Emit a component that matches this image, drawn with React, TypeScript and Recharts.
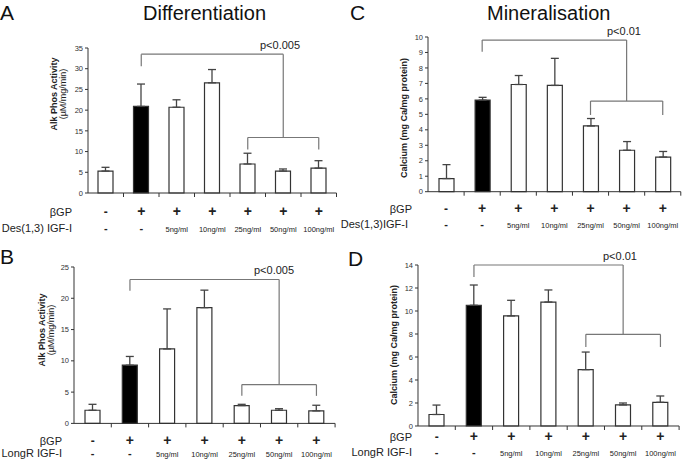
import React from 'react';
import { BarChart, Bar, XAxis, YAxis, Cell, ErrorBar, ReferenceLine } from 'recharts';

const FONT = '"Liberation Sans", Arial, sans-serif';

// treatment groups (same for all four panels)
const categories = ['ctrl', 'bgp', 'igf5', 'igf10', 'igf25', 'igf50', 'igf100'];
const gpLabels = ['-', '+', '+', '+', '+', '+', '+'];
const doseLabels = ['-', '-', '5ng/ml', '10ng/ml', '25ng/ml', '50ng/ml', '100ng/ml'];

// A: ALP activity, Des(1,3) IGF-I
const alpDesValues = [5.3, 20.9, 20.7, 26.6, 7.0, 5.3, 6.0];
const alpDesErrors = [0.9, 5.4, 1.8, 3.2, 2.6, 0.5, 1.8];
const alpDesTicks = [0, 5, 10, 15, 20, 25, 30, 35];
const alpDesBracket = [33.5, 30.6, 13.4, 10.5];

// B: ALP activity, LongR IGF-I
const alpLongValues = [2.1, 9.3, 11.9, 18.5, 2.85, 2.1, 2.0];
const alpLongErrors = [0.95, 1.4, 6.4, 2.8, 0.2, 0.25, 0.9];
const alpLongTicks = [0, 5, 10, 15, 20, 25];
const alpLongBracket = [23.0, 21.2, 6.2, 4.4];

// C: calcium, Des(1,3) IGF-I
const caDesValues = [0.85, 5.92, 6.93, 6.87, 4.25, 2.68, 2.24];
const caDesErrors = [0.9, 0.18, 0.58, 1.75, 0.48, 0.56, 0.36];
const caDesTicks = [0, 1, 2, 3, 4, 5, 6, 7, 8, 9, 10];
const caDesBracket = [9.8, 9.05, 5.86, 4.96];

// D: calcium, LongR IGF-I
const caLongValues = [1.0, 10.5, 9.57, 10.78, 4.9, 1.83, 2.06];
const caLongErrors = [0.82, 1.76, 1.36, 1.05, 1.53, 0.17, 0.55];
const caLongTicks = [0, 2, 4, 6, 8, 10, 12, 14];
const caLongBracket = [14.0, 12.96, 7.97, 6.87];

const panels = [
  { id: 'A', plot: { l: 88, r: 336.5, t: 48.3, b: 193.3 }, values: alpDesValues, errors: alpDesErrors, ticks: alpDesTicks, bracket: alpDesBracket, rows: [22.7, 38.7] },
  { id: 'B', plot: { l: 74.4, r: 335.5, t: 267.3, b: 423.7 }, values: alpLongValues, errors: alpLongErrors, ticks: alpLongTicks, bracket: alpLongBracket, rows: [21.5, 33.5] },
  { id: 'C', plot: { l: 428.2, r: 681, t: 37.3, b: 192 }, values: caDesValues, errors: caDesErrors, ticks: caDesTicks, bracket: caDesBracket, rows: [21, 36] },
  { id: 'D', plot: { l: 417.7, r: 678.8, t: 265.3, b: 426.3 }, values: caLongValues, errors: caLongErrors, ticks: caLongTicks, bracket: caLongBracket, rows: [15, 30] },
];

const makeTick = (band: number, d1: number, d2: number) => (props: any) => {
  const { x, y, index } = props;
  const small = index >= 2;
  const plus = gpLabels[index] === '+';
  return (
    <g>
      {index > 0 && <line x1={x - band / 2} x2={x - band / 2} y1={y} y2={y + 4} stroke="#333" />}
      {index === 6 && <line x1={x + band / 2} x2={x + band / 2} y1={y} y2={y + 4} stroke="#333" />}
      <text x={x} y={y + d1} textAnchor="middle" fontSize={plus ? 14 : 12} fontWeight="bold" fill="#222" fontFamily={FONT}>
        {gpLabels[index]}
      </text>
      <text x={x} y={y + d2} textAnchor="middle" fontSize={small ? 7.5 : 11} fontWeight={small ? 'normal' : 'bold'} fill="#222" fontFamily={FONT}>
        {doseLabels[index]}
      </text>
    </g>
  );
};

function Panel({ p }: { p: any }) {
  const yw = 28, mt = 10, mr = 4, xh = 42;
  const left = p.plot.l - yw;
  const top = p.plot.t - mt;
  const width = p.plot.r - left + mr;
  const height = p.plot.b - p.plot.t + mt + xh;
  const band = (p.plot.r - p.plot.l) / categories.length;
  const data = categories.map((c, i) => ({ cat: c, v: p.values[i], e: [0, p.errors[i]] }));
  const max = p.ticks[p.ticks.length - 1];
  const [top1, drop1, low, drop2] = p.bracket;
  const seg = { stroke: '#777', strokeWidth: 1.2, ifOverflow: 'visible' as const };
  return (
    <div style={{ position: 'absolute', left, top }}>
      <BarChart width={width} height={height} data={data} margin={{ top: mt, right: mr, bottom: 0, left: 0 }}>
        <YAxis
          type="number"
          domain={[0, max]}
          ticks={p.ticks}
          interval={0}
          width={yw}
          tickSize={3}
          tickMargin={2}
          stroke="#333"
          tick={{ fontSize: 7.5, fill: '#333', fontFamily: FONT }}
        />
        <XAxis
          dataKey="cat"
          interval={0}
          height={xh}
          tickLine={false}
          tickSize={0}
          tickMargin={0}
          stroke="#333"
          tick={makeTick(band, p.rows[0], p.rows[1])}
        />
        <Bar dataKey="v" barSize={15} stroke="#333" strokeWidth={1.2} isAnimationActive={false}>
          {data.map((d, i) => (
            <Cell key={d.cat} fill={i === 1 ? '#000' : '#fff'} />
          ))}
          <ErrorBar dataKey="e" direction="y" width={4} stroke="#444" strokeWidth={1.3} />
        </Bar>
        <ReferenceLine segment={[{ x: categories[1], y: top1 }, { x: categories[5], y: top1 }]} {...seg} />
        <ReferenceLine segment={[{ x: categories[1], y: top1 }, { x: categories[1], y: drop1 }]} {...seg} />
        <ReferenceLine segment={[{ x: categories[5], y: top1 }, { x: categories[5], y: low }]} {...seg} />
        <ReferenceLine segment={[{ x: categories[4], y: low }, { x: categories[6], y: low }]} {...seg} />
        <ReferenceLine segment={[{ x: categories[4], y: low }, { x: categories[4], y: drop2 }]} {...seg} />
        <ReferenceLine segment={[{ x: categories[6], y: low }, { x: categories[6], y: drop2 }]} {...seg} />
      </BarChart>
    </div>
  );
}

function Rot({ x, y, children, bold }: { x: number; y: number; children: React.ReactNode; bold?: boolean }) {
  return (
    <text x={x} y={y} transform={`rotate(-90 ${x} ${y})`} textAnchor="middle" fontSize={9} fontWeight={bold ? 'bold' : 'normal'} fill="#222">
      {children}
    </text>
  );
}

export default function App() {
  return (
    <div style={{ position: 'absolute', left: 0, top: 0, width: 685, height: 460, overflow: 'hidden', background: '#fff', fontFamily: FONT }}>
      {panels.map((p) => (
        <Panel key={p.id} p={p} />
      ))}
      <svg width={685} height={460} style={{ position: 'absolute', left: 0, top: 0, pointerEvents: 'none' }} fontFamily={FONT}>
        <text x={0} y={20} fontSize={21} fill="#111">A</text>
        <text x={143} y={20} fontSize={20} fill="#111">Differentiation</text>
        <text x={350} y={20} fontSize={21} fill="#111">C</text>
        <text x={487} y={20} fontSize={20} fill="#111">Mineralisation</text>
        <text x={0} y={264} fontSize={21} fill="#111">B</text>
        <text x={348} y={266} fontSize={21} fill="#111">D</text>

        <text x={260} y={49} fontSize={11} fill="#222">p&lt;0.005</text>
        <text x={254} y={274} fontSize={11} fill="#222">p&lt;0.005</text>
        <text x={607} y={35} fontSize={11} fill="#222">p&lt;0.01</text>
        <text x={603} y={260} fontSize={11} fill="#222">p&lt;0.01</text>

        <Rot x={57} y={94} bold>Alk Phos Activity</Rot>
        <Rot x={66} y={94}>(µM/mg/min)</Rot>
        <Rot x={45} y={330} bold>Alk Phos Activity</Rot>
        <Rot x={54} y={330}>(µM/mg/min)</Rot>
        <Rot x={407} y={118} bold>Calcium (mg Ca/mg protein)</Rot>
        <Rot x={397} y={345} bold>Calcium (mg Ca/mg protein)</Rot>

        <text x={72} y={216} fontSize={11} textAnchor="end" fill="#222">βGP</text>
        <text x={72} y={232} fontSize={11} textAnchor="end" fill="#222">Des(1,3) IGF-I</text>
        <text x={62} y={445} fontSize={11} textAnchor="end" fill="#222">βGP</text>
        <text x={62} y={457} fontSize={11} textAnchor="end" fill="#222">LongR IGF-I</text>
        <text x={412} y={213} fontSize={11} textAnchor="end" fill="#222">βGP</text>
        <text x={408} y={228} fontSize={11} textAnchor="end" fill="#222">Des(1,3)IGF-I</text>
        <text x={412} y={441} fontSize={11} textAnchor="end" fill="#222">βGP</text>
        <text x={412} y={456} fontSize={11} textAnchor="end" fill="#222">LongR IGF-I</text>
      </svg>
    </div>
  );
}
